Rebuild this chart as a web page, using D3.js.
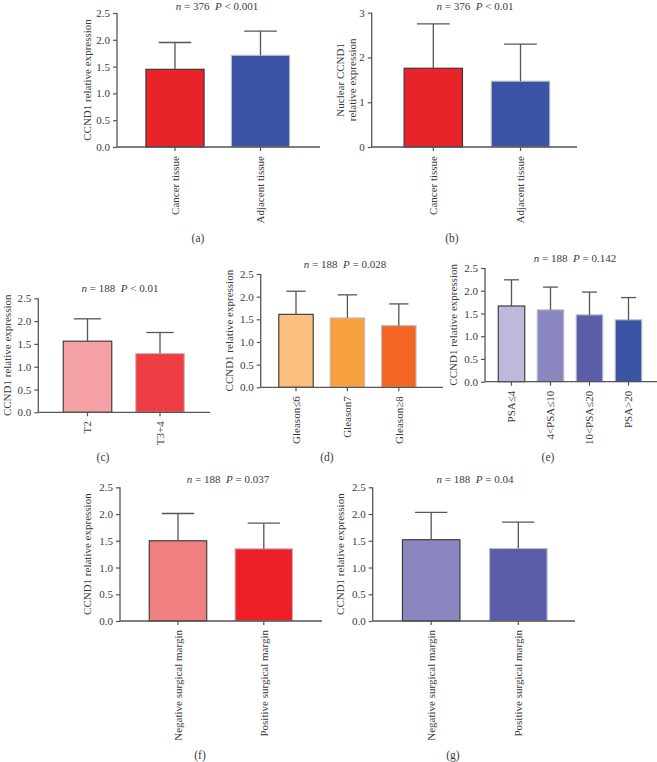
<!DOCTYPE html>
<html>
<head>
<meta charset="utf-8">
<script src="https://cdn.jsdelivr.net/npm/d3@7"></script>
<style>
  html, body { margin: 0; padding: 0; background: #fff; }
  svg { display: block; font-family: "Liberation Serif", "DejaVu Serif", serif; }
</style>
</head>
<body>
<svg id="chart" width="657" height="762"></svg>
<script>
// ---------- DATA ----------
const catsA = ["Cancer tissue", "Adjacent tissue"];
const meanA = [1.45, 1.71];
const upperA = [1.95, 2.16];
const colorsA = ["#E8232A", "#3A53A4"];

const catsB = ["Cancer tissue", "Adjacent tissue"];
const meanB = [1.76, 1.47];
const upperB = [2.75, 2.30];
const colorsB = ["#E8232A", "#3A53A4"];

const catsC = ["T2", "T3+4"];
const meanC = [1.56, 1.29];
const upperC = [2.05, 1.75];
const colorsC = ["#F4A0A5", "#EE3E44"];

const catsD = ["Gleason≤6", "Gleason7", "Gleason≥8"];
const meanD = [1.61, 1.53, 1.36];
const upperD = [2.12, 2.04, 1.84];
const colorsD = ["#FDBF80", "#F9A03F", "#F26522"];

const catsE = ["PSA≤4", "4<PSA≤10", "10<PSA≤20", "PSA>20"];
const meanE = [1.665, 1.58, 1.47, 1.36];
const upperE = [2.24, 2.08, 1.97, 1.85];
const colorsE = ["#BDB8DC", "#8A87C0", "#5A5EA8", "#3A53A4"];

const catsF = ["Negative surgical margin", "Positive surgical margin"];
const meanF = [1.50, 1.35];
const upperF = [2.01, 1.83];
const colorsF = ["#F27F80", "#ED2027"];

const catsG = ["Negative surgical margin", "Positive surgical margin"];
const meanG = [1.52, 1.355];
const upperG = [2.03, 1.85];
const colorsG = ["#8A87C0", "#5A5EA8"];

const ticks25 = [0, 0.5, 1.0, 1.5, 2.0, 2.5];
const ticks3 = [0, 1, 2, 3];

const titles = {
  a: ["376", "< 0.001"], b: ["376", "< 0.01"], c: ["188", "< 0.01"],
  d: ["188", "= 0.028"], e: ["188", "= 0.142"], f: ["188", "= 0.037"], g: ["188", "= 0.04"]
};
const yTitles = {
  a: ["CCND1 relative expression"], b: ["Nuclear CCND1", "relative expression"],
  c: ["CCND1 relative expression"], d: ["CCND1 relative expression"],
  e: ["CCND1 relative expression"], f: ["CCND1 relative expression"],
  g: ["CCND1 relative expression"]
};

// ---------- LAYOUT (positions only) ----------
const panels = [
  { id: "a", cats: catsA, mean: meanA, upper: upperA, colors: colorsA, yMax: 2.5, ticks: ticks25, fmt: d3.format(".1f"),
    axisX: 117, axisEnd: 320, band: [132.25, 303.25], pad: 0.32, yTop: 13, yBot: 147,
    titleX: 217, titleY: 10, yTitleX: [87], labelX: 198, labelY: 242 },
  { id: "b", cats: catsB, mean: meanB, upper: upperB, colors: colorsB, yMax: 3, ticks: ticks3, fmt: d3.format("d"),
    axisX: 371.7, axisEnd: 577, band: [389.7, 564.1], pad: 0.33, yTop: 12.7, yBot: 147,
    titleX: 475, titleY: 10, yTitleX: [340, 352.5], labelX: 452, labelY: 242 },
  { id: "c", cats: catsC, mean: meanC, upper: upperC, colors: colorsC, yMax: 2.5, ticks: ticks25, fmt: d3.format(".1f"),
    axisX: 38.3, axisEnd: 210, band: [51.25, 196.25], pad: 0.33, yTop: 298.3, yBot: 412.3,
    titleX: 120, titleY: 291.5, yTitleX: [7.5], labelX: 103, labelY: 461 },
  { id: "d", cats: catsD, mean: meanD, upper: upperD, colors: colorsD, yMax: 2.5, ticks: ticks25, fmt: d3.format(".1f"),
    axisX: 260.7, axisEnd: 443, band: [270.3, 424.5], pad: 0.33, yTop: 274, yBot: 387.3,
    titleX: 345, titleY: 267.5, yTitleX: [229.5], labelX: 327, labelY: 461 },
  { id: "e", cats: catsE, mean: meanE, upper: upperE, colors: colorsE, yMax: 2.5, ticks: ticks25, fmt: d3.format(".1f"),
    axisX: 485, axisEnd: 657, band: [492, 648], pad: 0.32, yTop: 268, yBot: 381.7,
    titleX: 575, titleY: 261.5, yTitleX: [453.5], labelX: 548, labelY: 461 },
  { id: "f", cats: catsF, mean: meanF, upper: upperF, colors: colorsF, yMax: 2.5, ticks: ticks25, fmt: d3.format(".1f"),
    axisX: 120, axisEnd: 322, band: [135.1, 306.7], pad: 0.33, yTop: 487.3, yBot: 621,
    titleX: 228, titleY: 482.5, yTitleX: [87], labelX: 200, labelY: 759 },
  { id: "g", cats: catsG, mean: meanG, upper: upperG, colors: colorsG, yMax: 2.5, ticks: ticks25, fmt: d3.format(".1f"),
    axisX: 372.7, axisEnd: 575, band: [387.6, 561.9], pad: 0.34, yTop: 487.3, yBot: 621,
    titleX: 475, titleY: 482.5, yTitleX: [340], labelX: 453, labelY: 759 }
];

const AXIS = "#555";
const TEXT = "#3a3a3a";
const FS = 11;

const svg = d3.select("#chart");

panels.forEach(p => {
  const g = svg.append("g").attr("class", "panel-" + p.id);
  const x = d3.scaleBand().domain(p.cats).range(p.band).paddingInner(p.pad).paddingOuter(p.pad / 2);
  const y = d3.scaleLinear().domain([0, p.yMax]).range([p.yBot, p.yTop]);

  // Y axis
  const yAxis = d3.axisLeft(y).tickValues(p.ticks).tickFormat(p.fmt).tickSize(4).tickPadding(3);
  const ya = g.append("g").attr("transform", `translate(${p.axisX},0)`).call(yAxis);
  ya.select(".domain").attr("stroke", AXIS).attr("stroke-width", 1.3).attr("d", `M0,${p.yTop}V${p.yBot}`);
  ya.selectAll(".tick line").attr("stroke", AXIS).attr("stroke-width", 1.2);
  ya.selectAll(".tick text").attr("fill", TEXT).style("font-size", FS + "px").style("font-family", "Liberation Serif, serif");

  // Bars
  g.selectAll("rect.bar").data(p.cats).join("rect")
    .attr("class", "bar")
    .attr("x", d => x(d))
    .attr("width", x.bandwidth())
    .attr("y", (d, i) => y(p.mean[i]))
    .attr("height", (d, i) => y(0) - y(p.mean[i]))
    .attr("fill", (d, i) => p.colors[i])
    .attr("stroke", (d, i) => i === 0 ? "#333" : "#b9bcc6")
    .attr("stroke-width", 1.1);

  // Error bars
  const capW = x.bandwidth() * 0.56;
  g.selectAll("line.err").data(p.cats).join("line")
    .attr("class", "err")
    .attr("x1", d => x(d) + x.bandwidth() / 2).attr("x2", d => x(d) + x.bandwidth() / 2)
    .attr("y1", (d, i) => y(p.mean[i])).attr("y2", (d, i) => y(p.upper[i]))
    .attr("stroke", AXIS).attr("stroke-width", 1.3);
  g.selectAll("line.cap").data(p.cats).join("line")
    .attr("class", "cap")
    .attr("x1", d => x(d) + x.bandwidth() / 2 - capW / 2).attr("x2", d => x(d) + x.bandwidth() / 2 + capW / 2)
    .attr("y1", (d, i) => y(p.upper[i])).attr("y2", (d, i) => y(p.upper[i]))
    .attr("stroke", AXIS).attr("stroke-width", 1.3);

  // X axis
  const xAxis = d3.axisBottom(x).tickSize(4).tickPadding(4);
  const xa = g.append("g").attr("transform", `translate(0,${p.yBot})`).call(xAxis);
  xa.select(".domain").attr("stroke", AXIS).attr("stroke-width", 1.3).attr("d", `M${p.axisX},0H${p.axisEnd}`);
  xa.selectAll(".tick line").attr("stroke", AXIS).attr("stroke-width", 1.2);
  xa.selectAll(".tick text")
    .attr("fill", TEXT).style("font-size", FS + "px").style("font-family", "Liberation Serif, serif")
    .attr("text-anchor", "end")
    .attr("transform", "rotate(-90)")
    .attr("x", -9).attr("y", 0).attr("dy", "0.35em");

  // Y title
  const yc = (p.yTop + p.yBot) / 2;
  yTitles[p.id].forEach((t, k) => {
    g.append("text")
      .attr("transform", `translate(${p.yTitleX[k]},${yc}) rotate(-90)`)
      .attr("text-anchor", "middle").attr("dy", "0.35em")
      .attr("fill", TEXT).style("font-size", FS + "px")
      .text(t);
  });

  // Title
  const tt = g.append("text").attr("x", p.titleX).attr("y", p.titleY)
    .attr("text-anchor", "middle").attr("fill", TEXT).style("font-size", FS + "px")
    .attr("xml:space", "preserve");
  tt.append("tspan").attr("font-style", "italic").text("n");
  tt.append("tspan").text(" = " + titles[p.id][0] + "  ");
  tt.append("tspan").attr("font-style", "italic").text("P");
  tt.append("tspan").text(" " + titles[p.id][1]);

  // Panel label
  g.append("text").attr("x", p.labelX).attr("y", p.labelY)
    .attr("text-anchor", "middle").attr("fill", TEXT).style("font-size", "11.5px")
    .text("(" + p.id + ")");
});
</script>
</body>
</html>
